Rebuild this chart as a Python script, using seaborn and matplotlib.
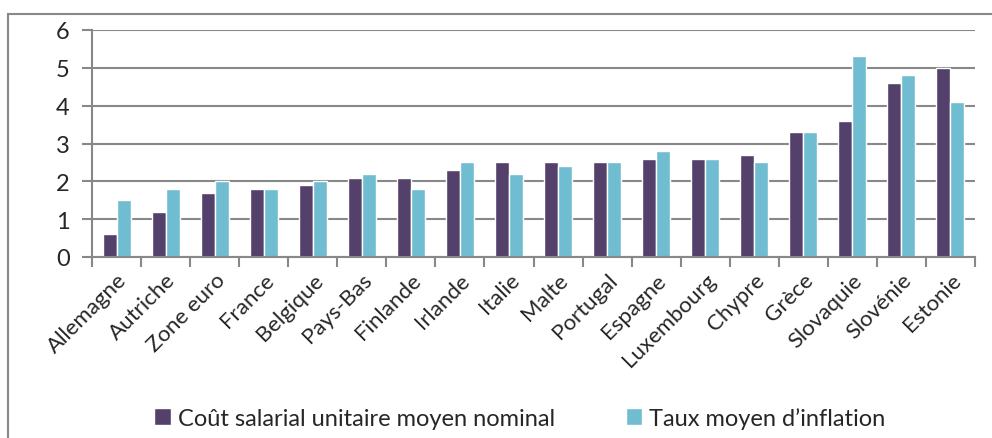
"""Coût salarial unitaire vs inflation, zone euro (bar chart)."""
import matplotlib
matplotlib.use("Agg")
import matplotlib.pyplot as plt
import pandas as pd
import seaborn as sns
from matplotlib.patches import Rectangle
from matplotlib.ticker import FixedLocator

pays = ["Allemagne", "Autriche", "Zone euro", "France", "Belgique", "Pays-Bas",
        "Finlande", "Irlande", "Italie", "Malte", "Portugal", "Espagne",
        "Luxembourg", "Chypre", "Grèce", "Slovaquie", "Slovénie", "Estonie"]
cout_salarial = [0.6, 1.2, 1.7, 1.8, 1.9, 2.1, 2.1, 2.3, 2.5, 2.5, 2.5, 2.6,
                 2.6, 2.7, 3.3, 3.6, 4.6, 5.0]
inflation = [1.5, 1.8, 2.0, 1.8, 2.0, 2.2, 1.8, 2.5, 2.2, 2.4, 2.5, 2.8,
             2.6, 2.5, 3.3, 5.3, 4.8, 4.1]
series = ["Coût salarial unitaire moyen nominal", "Taux moyen d\u2019inflation"]
couleurs = ["#53406B", "#70BCD0"]

df = pd.DataFrame({
    "pays": pays * 2,
    "valeur": cout_salarial + inflation,
    "serie": [series[0]] * len(pays) + [series[1]] * len(pays),
})

sns.set_style("white")
plt.rcParams["font.family"] = ["Lato", "DejaVu Sans"]

fig = plt.figure(figsize=(9.92, 4.39), dpi=100)
ax = fig.add_axes([92 / 992, 1 - 258 / 439, (975 - 92) / 992, (258 - 31) / 439])

sns.barplot(data=df, x="pays", y="valeur", hue="serie", palette=couleurs,
            saturation=1, width=0.57, gap=0, ax=ax, legend=True)

ax.set_ylim(0, 6)
ax.set_xlim(-0.5, len(pays) - 0.5)
ax.set_yticks(range(0, 7))
ax.yaxis.grid(True, color="#888888", linewidth=1.5)
ax.set_axisbelow(True)
for s in ["top", "right"]:
    ax.spines[s].set_visible(False)
for s in ["left", "bottom"]:
    ax.spines[s].set_color("#888888")
    ax.spines[s].set_linewidth(1.5)

ax.tick_params(axis="y", which="major", length=7, width=1.5, color="#888888",
               labelsize=17, pad=9, left=True)
ax.set_xticks(range(len(pays)))
ax.set_xticklabels(pays, rotation=45, ha="right", rotation_mode="anchor")
ax.tick_params(axis="x", which="major", length=0, labelsize=16, pad=9)
ax.xaxis.set_minor_locator(FixedLocator([i - 0.5 for i in range(len(pays) + 1)]))
ax.tick_params(axis="x", which="minor", length=7, width=1.5, color="#888888",
               bottom=True)
ax.set_xlabel("")
ax.set_ylabel("")

ax.legend(loc="center", bbox_to_anchor=(520 / 992, 20 / 439),
          bbox_transform=fig.transFigure, ncol=2, frameon=False, fontsize=17,
          handlelength=0.7, handleheight=0.7, handletextpad=0.3,
          columnspacing=3.0)

fig.patches.append(Rectangle((8 / 992, -0.05), 1.0, 1 - 15 / 439 + 0.05,
                             transform=fig.transFigure, fill=False,
                             edgecolor="#888888", linewidth=1.5))

fig.savefig("out.png", dpi=100)
